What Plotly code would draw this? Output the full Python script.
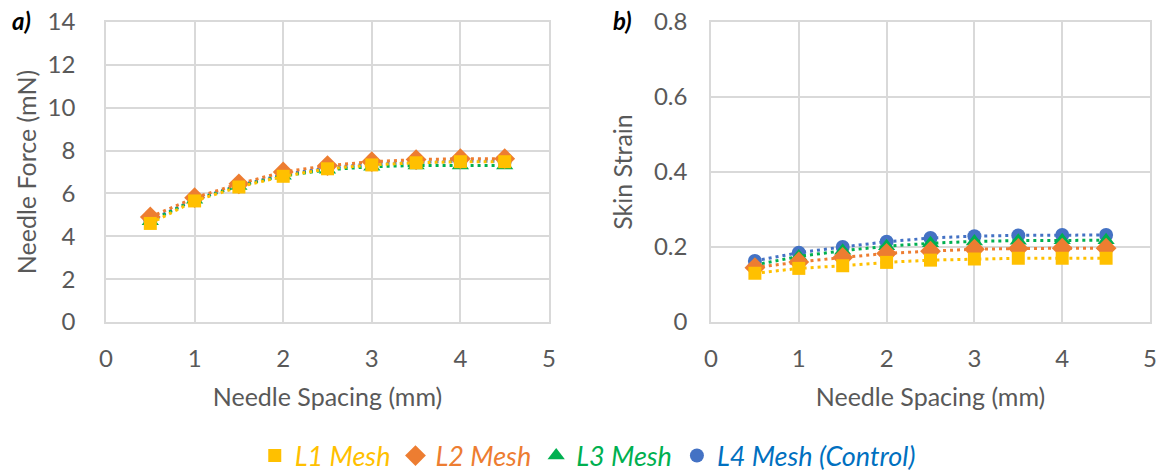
import plotly.graph_objects as go

# Needle spacing (mm)
spacing = [0.5, 1.0, 1.5, 2.0, 2.5, 3.0, 3.5, 4.0, 4.5]

# Needle force (mN) per mesh
force_l1 = [4.60, 5.65, 6.30, 6.80, 7.15, 7.33, 7.43, 7.48, 7.48]
force_l2 = [4.90, 5.80, 6.45, 7.00, 7.30, 7.48, 7.58, 7.62, 7.62]
force_l3 = [4.70, 5.70, 6.35, 6.82, 7.10, 7.25, 7.30, 7.30, 7.30]
force_l4 = [4.75, 5.72, 6.38, 6.88, 7.20, 7.38, 7.45, 7.50, 7.50]

# Skin strain per mesh
strain_l1 = [0.130, 0.143, 0.150, 0.159, 0.165, 0.168, 0.170, 0.170, 0.170]
strain_l2 = [0.145, 0.160, 0.172, 0.183, 0.189, 0.194, 0.196, 0.197, 0.197]
strain_l3 = [0.152, 0.175, 0.190, 0.202, 0.210, 0.215, 0.217, 0.218, 0.218]
strain_l4 = [0.163, 0.185, 0.200, 0.214, 0.224, 0.229, 0.231, 0.232, 0.232]

series_names = ["L1 Mesh", "L2 Mesh", "L3 Mesh", "L4 Mesh (Control)"]
colors = ["#FFC000", "#ED7D31", "#00B050", "#4472C4"]
text_colors = ["#FFC000", "#ED7D31", "#00B050", "#0070C0"]
symbols = ["square", "diamond", "triangle-up", "circle"]
sizes = [13, 16, 15, 14]

force = [force_l1, force_l2, force_l3, force_l4]
strain = [strain_l1, strain_l2, strain_l3, strain_l4]

FONT = "Lato, Calibri, Carlito, sans-serif"
GRID = "#D9D9D9"
TICK = "#595959"
TICK_SIZE = 24
TITLE_SIZE = 25

fig = go.Figure()

# draw L4 first so L1 ends up on top; legend order restored with legendrank
for i in reversed(range(4)):
    for panel, (ys, xa, ya) in enumerate([(force[i], "x", "y"), (strain[i], "x2", "y2")]):
        fig.add_trace(go.Scatter(
            x=spacing, y=ys, xaxis=xa, yaxis=ya, mode="lines",
            line=dict(color=colors[i], width=3, dash="3px,4px"),
            showlegend=False, hoverinfo="skip"))
        fig.add_trace(go.Scatter(
            x=spacing, y=ys, xaxis=xa, yaxis=ya, mode="markers",
            marker=dict(symbol=symbols[i], size=sizes[i], color=colors[i]),
            name=f"<span style='color:{text_colors[i]}'><i>{series_names[i]}</i></span>",
            legendgroup=series_names[i], legendrank=i + 1,
            showlegend=(panel == 0)))

W, H = 1157, 474

def px_x(p):
    return p / W

def px_y(p):
    return 1 - p / H

axis_common = dict(
    showgrid=True, gridcolor=GRID, gridwidth=1.5,
    showline=True, linecolor=GRID, linewidth=1.5, mirror=True,
    zeroline=False, ticks="",
    tickfont=dict(family=FONT, size=TICK_SIZE, color=TICK),
)

title_font = dict(family=FONT, size=TITLE_SIZE, color=TICK)

fig.update_layout(
    width=W, height=H,
    margin=dict(l=0, r=0, t=0, b=0, autoexpand=False),
    paper_bgcolor="white", plot_bgcolor="white",
    font=dict(family=FONT, color=TICK),
    xaxis=dict(domain=[px_x(106), px_x(549)], range=[0, 5], dtick=1,
               anchor="y", ticklabelstandoff=14,
               title=dict(text="Needle Spacing (mm)", standoff=18, font=title_font),
               **axis_common),
    yaxis=dict(domain=[px_y(322), px_y(22)], range=[0, 14], dtick=2,
               anchor="x", ticklabelstandoff=24,
               title=dict(text="Needle Force (mN)", standoff=4, font=title_font),
               **axis_common),
    xaxis2=dict(domain=[px_x(711), px_x(1150)], range=[0, 5], dtick=1,
                anchor="y2", ticklabelstandoff=14,
                title=dict(text="Needle Spacing (mm)", standoff=18, font=title_font),
                **axis_common),
    yaxis2=dict(domain=[px_y(322), px_y(22)], range=[0, 0.8],
                tickvals=[0, 0.2, 0.4, 0.6, 0.8],
                ticktext=["0", "0.2", "0.4", "0.6", "0.8"],
                anchor="x2", ticklabelstandoff=17,
                title=dict(text="Skin Strain", standoff=14, font=title_font),
                **axis_common),
    legend=dict(orientation="h", x=0.508, xanchor="center",
                y=px_y(456), yanchor="middle",
                font=dict(family=FONT, size=27),
                traceorder="normal", itemwidth=30,
                bgcolor="rgba(0,0,0,0)"),
    showlegend=True,
)

for label, xp in [("a)", 22), ("b)", 622)]:
    fig.add_annotation(text=f"<b><i>{label}</i></b>", xref="paper", yref="paper",
                       x=px_x(xp), y=px_y(20), xanchor="center", yanchor="middle",
                       showarrow=False, font=dict(family=FONT, size=24, color="black"))

fig.write_html("out.html")
